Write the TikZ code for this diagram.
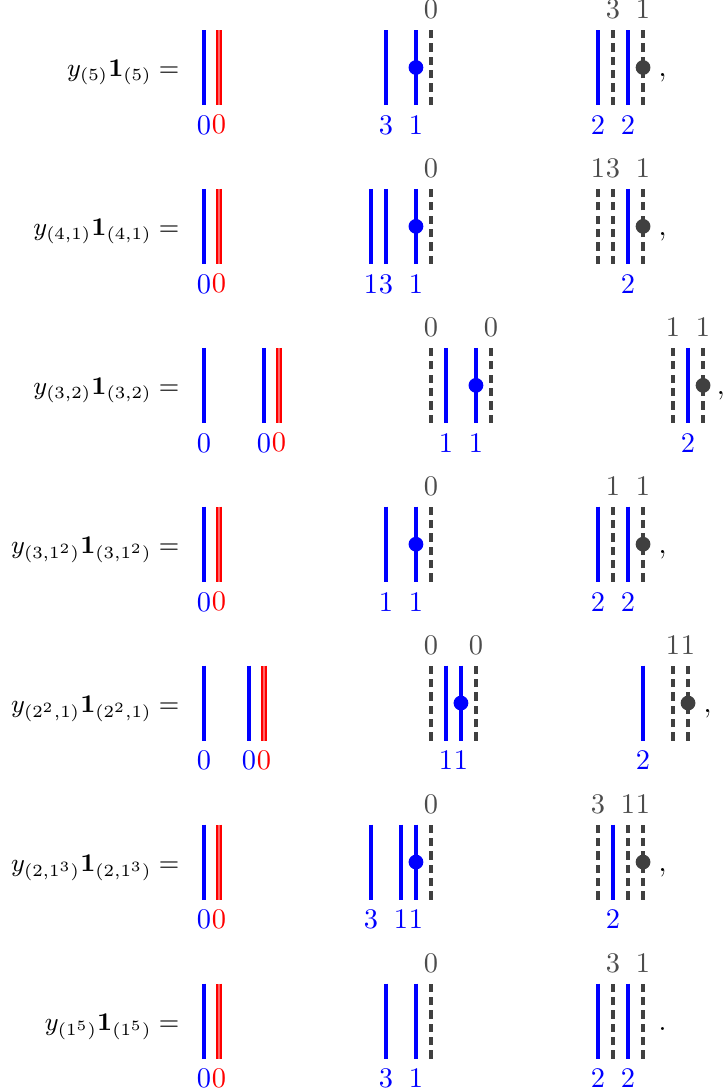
\documentclass[tikz,border=0pt]{standalone}
\usepackage{amsmath}

\begin{document}
\begin{tikzpicture}[x=5.28pt, y=5.28pt,
    strand/.style={blue, line width=1.1pt},
    redstrand/.style={draw=red, double=red!60, double distance=0.6pt, line width=0.8pt, text=red},
    ghost/.style={black!75, line width=1.1pt, dash pattern=on 2.9pt off 1.8pt, text=black!70},
    eqn/.style={anchor=base east, inner sep=0pt, font=\fontsize{9.2}{11}\selectfont},
    punct/.style={anchor=base west, inner sep=0pt}]
    \useasboundingbox (0,0) rectangle (48.267,-72.8);

    % (5)
    \begin{scope}[shift={(0,-4.5)}]
      \node[eqn] (eq1) at (12.0,-0.6) {$y_{(5)}\mathbf{1}_{(5)} =$};
      \draw[strand] (13.6,2.5) -- (13.6,-2.5) node[below]{$0$};
      \draw[redstrand] (14.6,2.5) -- (14.6,-2.5) node[below]{$0$};
      \draw[strand] (25.73,2.5) -- (25.73,-2.5) node[below]{$3$};
      \draw[strand] (27.73,2.5) -- (27.73,-2.5) node[below]{$1$};
      \draw[ghost] (28.73,-2.5) -- (28.73,2.5) node[above]{$0$};
      \fill[blue] (27.73,0) circle (2.6pt);
      \draw[strand] (39.87,2.5) -- (39.87,-2.5) node[below]{$2$};
      \draw[ghost] (40.87,-2.5) -- (40.87,2.5) node[above]{$3$};
      \draw[strand] (41.87,2.5) -- (41.87,-2.5) node[below]{$2$};
      \draw[ghost] (42.87,-2.5) -- (42.87,2.5) node[above]{$1$};
      \fill[black!75] (42.87,0) circle (2.6pt);
      \node[punct] (p1) at (43.87,-0.63) {$,$};
    \end{scope}

    % (4,1)
    \begin{scope}[shift={(0,-15.09)}]
      \node[eqn] (eq2) at (12.0,-0.6) {$y_{(4,1)}\mathbf{1}_{(4,1)} =$};
      \draw[strand] (13.6,2.5) -- (13.6,-2.5) node[below]{$0$};
      \draw[redstrand] (14.6,2.5) -- (14.6,-2.5) node[below]{$0$};
      \draw[strand] (24.73,2.5) -- (24.73,-2.5) node[below]{$1$};
      \draw[strand] (25.73,2.5) -- (25.73,-2.5) node[below]{$3$};
      \draw[strand] (27.73,2.5) -- (27.73,-2.5) node[below]{$1$};
      \draw[ghost] (28.73,-2.5) -- (28.73,2.5) node[above]{$0$};
      \fill[blue] (27.73,0) circle (2.6pt);
      \draw[ghost] (39.87,-2.5) -- (39.87,2.5) node[above]{$1$};
      \draw[ghost] (40.87,-2.5) -- (40.87,2.5) node[above]{$3$};
      \draw[strand] (41.87,2.5) -- (41.87,-2.5) node[below]{$2$};
      \draw[ghost] (42.87,-2.5) -- (42.87,2.5) node[above]{$1$};
      \fill[black!75] (42.87,0) circle (2.6pt);
      \node[punct] (p2) at (43.87,-0.63) {$,$};
    \end{scope}

    % (3,2)
    \begin{scope}[shift={(0,-25.69)}]
      \node[eqn] (eq3) at (12.0,-0.6) {$y_{(3,2)}\mathbf{1}_{(3,2)} =$};
      \draw[strand] (13.6,2.5) -- (13.6,-2.5) node[below]{$0$};
      \draw[strand] (17.6,2.5) -- (17.6,-2.5) node[below]{$0$};
      \draw[redstrand] (18.6,2.5) -- (18.6,-2.5) node[below]{$0$};
      \draw[ghost] (28.73,-2.5) -- (28.73,2.5) node[above]{$0$};
      \draw[strand] (29.73,2.5) -- (29.73,-2.5) node[below]{$1$};
      \draw[strand] (31.73,2.5) -- (31.73,-2.5) node[below]{$1$};
      \draw[ghost] (32.73,-2.5) -- (32.73,2.5) node[above]{$0$};
      \fill[blue] (31.73,0) circle (2.6pt);
      \draw[ghost] (44.87,-2.5) -- (44.87,2.5) node[above]{$1$};
      \draw[strand] (45.87,2.5) -- (45.87,-2.5) node[below]{$2$};
      \draw[ghost] (46.87,-2.5) -- (46.87,2.5) node[above]{$1$};
      \fill[black!75] (46.87,0) circle (2.6pt);
      \node[punct] (p3) at (47.75,-0.63) {$,$};
    \end{scope}

    % (3,1^2)
    \begin{scope}[shift={(0,-36.28)}]
      \node[eqn] (eq4) at (12.0,-0.6) {$y_{(3,1^2)}\mathbf{1}_{(3,1^2)} =$};
      \draw[strand] (13.6,2.5) -- (13.6,-2.5) node[below]{$0$};
      \draw[redstrand] (14.6,2.5) -- (14.6,-2.5) node[below]{$0$};
      \draw[strand] (25.73,2.5) -- (25.73,-2.5) node[below]{$1$};
      \draw[strand] (27.73,2.5) -- (27.73,-2.5) node[below]{$1$};
      \draw[ghost] (28.73,-2.5) -- (28.73,2.5) node[above]{$0$};
      \fill[blue] (27.73,0) circle (2.6pt);
      \draw[strand] (39.87,2.5) -- (39.87,-2.5) node[below]{$2$};
      \draw[ghost] (40.87,-2.5) -- (40.87,2.5) node[above]{$1$};
      \draw[strand] (41.87,2.5) -- (41.87,-2.5) node[below]{$2$};
      \draw[ghost] (42.87,-2.5) -- (42.87,2.5) node[above]{$1$};
      \fill[black!75] (42.87,0) circle (2.6pt);
      \node[punct] (p4) at (43.87,-0.63) {$,$};
    \end{scope}

    % (2^2,1)
    \begin{scope}[shift={(0,-46.87)}]
      \node[eqn] (eq5) at (12.0,-0.6) {$y_{(2^2,1)}\mathbf{1}_{(2^2,1)} =$};
      \draw[strand] (13.6,2.5) -- (13.6,-2.5) node[below]{$0$};
      \draw[strand] (16.6,2.5) -- (16.6,-2.5) node[below]{$0$};
      \draw[redstrand] (17.6,2.5) -- (17.6,-2.5) node[below]{$0$};
      \draw[ghost] (28.73,-2.5) -- (28.73,2.5) node[above]{$0$};
      \draw[strand] (29.73,2.5) -- (29.73,-2.5) node[below]{$1$};
      \draw[strand] (30.73,2.5) -- (30.73,-2.5) node[below]{$1$};
      \draw[ghost] (31.73,-2.5) -- (31.73,2.5) node[above]{$0$};
      \fill[blue] (30.73,0) circle (2.6pt);
      \draw[strand] (42.87,2.5) -- (42.87,-2.5) node[below]{$2$};
      \draw[ghost] (44.87,-2.5) -- (44.87,2.5) node[above]{$1$};
      \draw[ghost] (45.87,-2.5) -- (45.87,2.5) node[above]{$1$};
      \fill[black!75] (45.87,0) circle (2.6pt);
      \node[punct] (p5) at (46.87,-0.63) {$,$};
    \end{scope}

    % (2,1^3)
    \begin{scope}[shift={(0,-57.47)}]
      \node[eqn] (eq6) at (12.0,-0.6) {$y_{(2,1^3)}\mathbf{1}_{(2,1^3)} =$};
      \draw[strand] (13.6,2.5) -- (13.6,-2.5) node[below]{$0$};
      \draw[redstrand] (14.6,2.5) -- (14.6,-2.5) node[below]{$0$};
      \draw[strand] (24.73,2.5) -- (24.73,-2.5) node[below]{$3$};
      \draw[strand] (26.73,2.5) -- (26.73,-2.5) node[below]{$1$};
      \draw[strand] (27.73,2.5) -- (27.73,-2.5) node[below]{$1$};
      \draw[ghost] (28.73,-2.5) -- (28.73,2.5) node[above]{$0$};
      \fill[blue] (27.73,0) circle (2.6pt);
      \draw[ghost] (39.87,-2.5) -- (39.87,2.5) node[above]{$3$};
      \draw[strand] (40.87,2.5) -- (40.87,-2.5) node[below]{$2$};
      \draw[ghost] (41.87,-2.5) -- (41.87,2.5) node[above]{$1$};
      \draw[ghost] (42.87,-2.5) -- (42.87,2.5) node[above]{$1$};
      \fill[black!75] (42.87,0) circle (2.6pt);
      \node[punct] (p6) at (43.87,-0.63) {$,$};
    \end{scope}

    % (1^5)
    \begin{scope}[shift={(0,-68.07)}]
      \node[eqn] (eq7) at (12.0,-0.6) {$y_{(1^5)}\mathbf{1}_{(1^5)} =$};
      \draw[strand] (13.6,2.5) -- (13.6,-2.5) node[below]{$0$};
      \draw[redstrand] (14.6,2.5) -- (14.6,-2.5) node[below]{$0$};
      \draw[strand] (25.73,2.5) -- (25.73,-2.5) node[below]{$3$};
      \draw[strand] (27.73,2.5) -- (27.73,-2.5) node[below]{$1$};
      \draw[ghost] (28.73,-2.5) -- (28.73,2.5) node[above]{$0$};
      \draw[strand] (39.87,2.5) -- (39.87,-2.5) node[below]{$2$};
      \draw[ghost] (40.87,-2.5) -- (40.87,2.5) node[above]{$3$};
      \draw[strand] (41.87,2.5) -- (41.87,-2.5) node[below]{$2$};
      \draw[ghost] (42.87,-2.5) -- (42.87,2.5) node[above]{$1$};
      \node[punct] (p7) at (43.87,-0.63) {$.$};
    \end{scope}

\end{tikzpicture}
\end{document}
